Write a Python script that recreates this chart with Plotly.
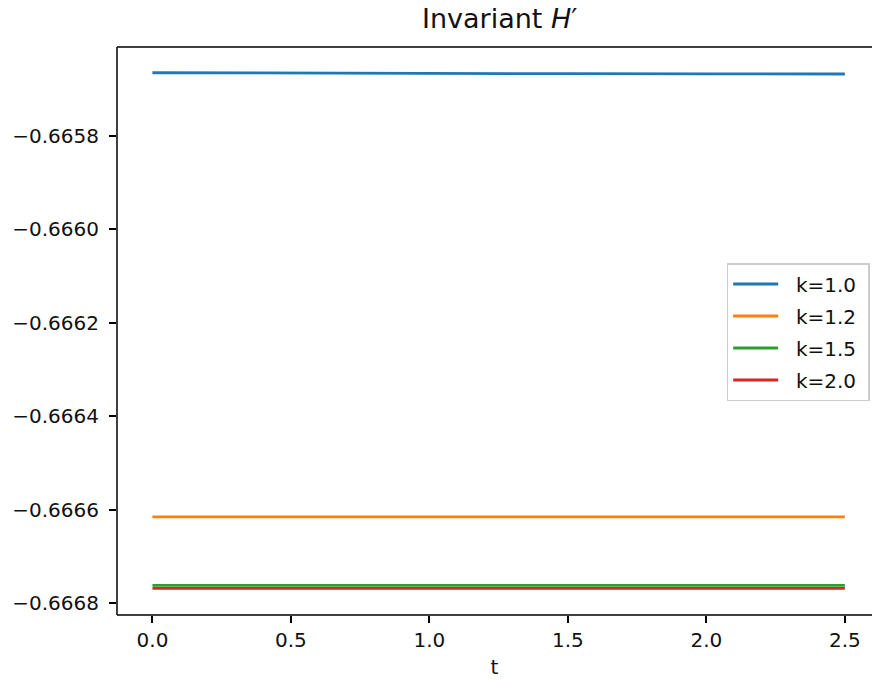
import plotly.graph_objects as go

t = [0.0, 0.5, 1.0, 1.5, 2.0, 2.5]
h_k10 = [-0.6656645, -0.6656656, -0.6656662, -0.6656666, -0.6656669, -0.6656672]
h_k12 = [-0.6666157, -0.6666157, -0.6666156, -0.6666156, -0.6666156, -0.6666155]
h_k15 = [-0.6667622, -0.6667622, -0.6667622, -0.6667621, -0.6667621, -0.6667621]
h_k20 = [-0.6667686, -0.6667686, -0.6667686, -0.6667686, -0.6667685, -0.6667685]
labels = ["k=1.0", "k=1.2", "k=1.5", "k=2.0"]
colors = ["#1f77b4", "#ff7f0e", "#2ca02c", "#d62728"]
xticks = [0.0, 0.5, 1.0, 1.5, 2.0, 2.5]
yticks = [-0.6658, -0.6660, -0.6662, -0.6664, -0.6666, -0.6668]

FONT = "DejaVu Sans"
TXT = "#111111"
fig = go.Figure()
for ys, lab, c in zip([h_k10, h_k12, h_k15, h_k20], labels, colors):
    fig.add_trace(go.Scatter(x=t, y=ys, mode="lines",
                             name="\u00a0\u00a0" + lab + "\u00a0",
                             legendgroup=lab,
                             line=dict(color=c, width=2.8)))

frame = dict(color="black", width=1.5)
fig.update_layout(
    width=874, height=680,
    margin=dict(l=117, r=2, t=47, b=65),
    paper_bgcolor="white", plot_bgcolor="rgba(0,0,0,0)",
    font=dict(family=FONT, size=20, color=TXT),
    showlegend=True,
    legend=dict(x=0.8075, y=0.6197, xanchor="left", yanchor="top",
                bgcolor="rgba(255,255,255,0.8)", bordercolor="#cccccc", borderwidth=1.5,
                font=dict(size=20, family=FONT, color=TXT),
                tracegroupgap=3, itemwidth=45),
    annotations=[dict(text="Invariant <i>H</i>\u2032", xref="paper", yref="paper",
                      x=0.506, y=1.0, yshift=11, xanchor="center", yanchor="bottom",
                      showarrow=False, font=dict(size=27, family=FONT, color=TXT))],
    shapes=[
        dict(type="line", xref="paper", yref="paper", x0=0, x1=0, y0=0, y1=1, line=frame),
        dict(type="line", xref="paper", yref="paper", x0=0, x1=1, y0=0, y1=0, line=frame),
        dict(type="line", xref="paper", yref="paper", x0=0, x1=1, y0=1, y1=1, line=frame),
    ],
)
fig.update_xaxes(range=[-0.128, 2.598], tickvals=xticks,
                 ticktext=[f"{v:.1f}" for v in xticks],
                 showline=False,
                 ticks="outside", ticklen=7, tickwidth=1.5, tickcolor="black",
                 ticklabelstandoff=0,
                 showgrid=False, zeroline=False,
                 title=dict(text="t", font=dict(size=20, family=FONT, color=TXT), standoff=8))
fig.update_yaxes(range=[-0.6668257, -0.6656094], tickvals=yticks,
                 ticktext=["\u2212" + f"{abs(v):.4f}" for v in yticks],
                 showline=False,
                 ticks="outside", ticklen=7, tickwidth=1.5, tickcolor="black",
                 ticklabelstandoff=6,
                 showgrid=False, zeroline=False)

fig.write_html("out.html")
